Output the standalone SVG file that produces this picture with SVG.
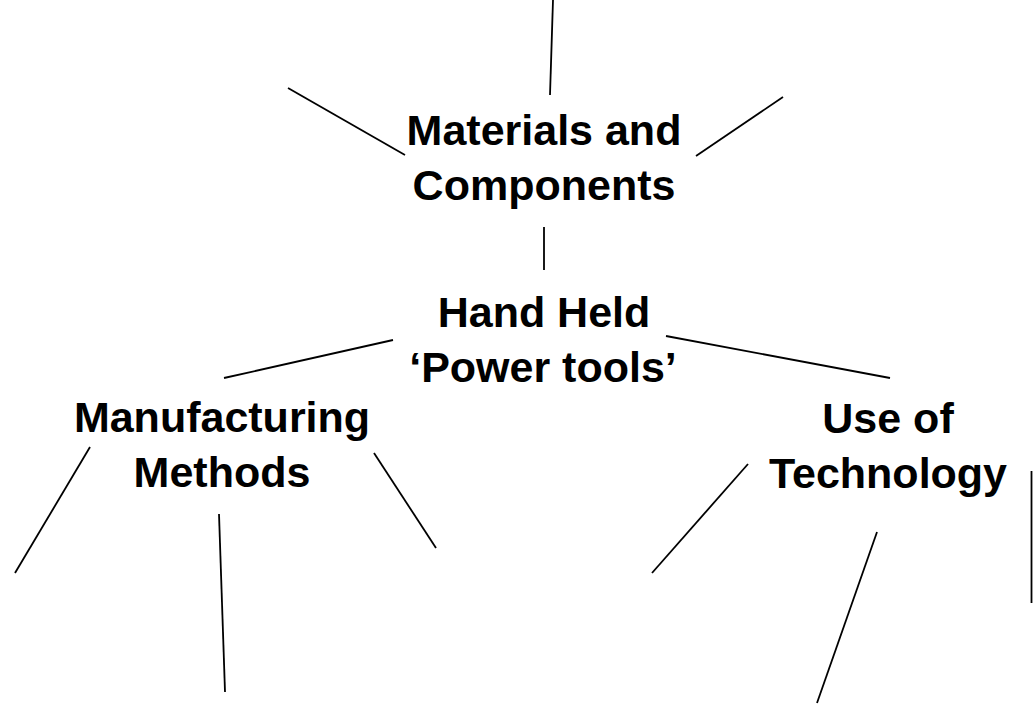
<svg xmlns="http://www.w3.org/2000/svg" width="1033" height="714" viewBox="0 0 1033 714">
<style>
.t{font-family:"Liberation Sans",Arial,sans-serif;font-weight:bold;font-size:43px;fill:#000;text-anchor:middle}
.c line{stroke:#000;stroke-width:1.8}
</style>
<rect width="1033" height="714" fill="#fff"/>
<g id="connectors" class="c">
<line x1="553" y1="0" x2="550" y2="95"/>
<line x1="288" y1="88" x2="405" y2="155"/>
<line x1="783" y1="97" x2="696" y2="156"/>
<line x1="544" y1="227" x2="544" y2="270"/>
<line x1="393" y1="340" x2="224" y2="378"/>
<line x1="666" y1="336" x2="890" y2="378"/>
<line x1="90" y1="447" x2="15" y2="573"/>
<line x1="219" y1="514" x2="225" y2="692"/>
<line x1="374" y1="453" x2="436" y2="548"/>
<line x1="748" y1="464" x2="652" y2="573"/>
<line x1="877" y1="532" x2="817" y2="703"/>
<line x1="1031.5" y1="471" x2="1031.5" y2="603"/>
</g>
<g id="materials"><text class="t" x="544" y="145">Materials and</text><text class="t" x="544" y="200">Components</text></g>
<g id="handheld"><text class="t" x="544" y="327">Hand Held</text><text class="t" x="543" y="382">‘Power tools’</text></g>
<g id="manufacturing"><text class="t" x="222" y="432">Manufacturing</text><text class="t" x="222" y="487">Methods</text></g>
<g id="technology"><text class="t" x="888" y="433">Use of</text><text class="t" x="888" y="488">Technology</text></g>
</svg>
